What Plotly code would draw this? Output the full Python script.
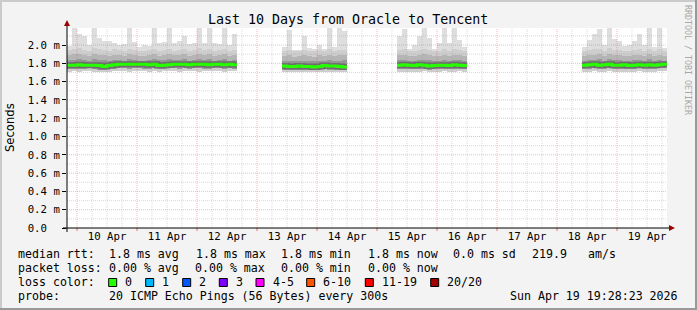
import plotly.graph_objects as go
import pandas as pd

# ---------------- data (milliseconds, 2-hour bins) ----------------
seg_starts = ["2026-04-09 20:00", "2026-04-13 10:00", "2026-04-15 08:00", "2026-04-18 10:00"]

top1 = [1.99, 2.19, 2.12, 2.10, 2.00, 2.19, 2.08, 2.04, 2.04, 2.02, 2.00, 2.01, 2.19, 2.03, 1.98, 2.00, 1.99,
        2.19, 2.02, 2.03, 2.19, 2.02, 2.04, 2.10, 2.01, 2.02, 2.19, 2.02, 2.19, 2.02, 2.01, 2.19, 2.00, 2.12]
hi1 = [1.95, 1.96, 1.97, 1.95, 1.94, 1.97, 1.96, 1.95, 1.94, 1.96, 1.95, 1.94, 1.96, 1.95, 1.93, 1.94, 1.95,
       1.96, 1.94, 1.95, 1.96, 1.94, 1.95, 1.96, 1.94, 1.95, 1.97, 1.95, 1.96, 1.94, 1.95, 1.96, 1.94, 1.95]
mid1 = [1.89, 1.90, 1.90, 1.89, 1.88, 1.90, 1.89, 1.89, 1.88, 1.89, 1.89, 1.88, 1.90, 1.89, 1.88, 1.88, 1.89,
        1.90, 1.88, 1.89, 1.90, 1.89, 1.89, 1.90, 1.88, 1.89, 1.90, 1.89, 1.90, 1.88, 1.89, 1.90, 1.88, 1.89]
dk1 = [1.84, 1.84, 1.85, 1.84, 1.83, 1.85, 1.84, 1.84, 1.83, 1.84, 1.84, 1.83, 1.85, 1.84, 1.83, 1.83, 1.84,
       1.85, 1.84, 1.84, 1.85, 1.84, 1.84, 1.85, 1.83, 1.84, 1.85, 1.84, 1.85, 1.83, 1.84, 1.85, 1.83, 1.84]
med1 = [1.78, 1.78, 1.785, 1.78, 1.78, 1.78, 1.775, 1.765, 1.775, 1.785, 1.79, 1.79, 1.79, 1.79, 1.79, 1.79, 1.785,
        1.79, 1.775, 1.78, 1.785, 1.79, 1.79, 1.79, 1.785, 1.79, 1.79, 1.79, 1.785, 1.79, 1.79, 1.785, 1.79, 1.785]
lo1 = [1.74, 1.74, 1.735, 1.74, 1.745, 1.74, 1.73, 1.725, 1.735, 1.74, 1.745, 1.745, 1.74, 1.745, 1.745, 1.74, 1.74,
       1.745, 1.735, 1.74, 1.745, 1.745, 1.74, 1.745, 1.74, 1.745, 1.745, 1.74, 1.74, 1.745, 1.745, 1.74, 1.745, 1.74]
mn1 = [1.71, 1.72, 1.71, 1.72, 1.72, 1.71, 1.70, 1.70, 1.71, 1.72, 1.72, 1.72, 1.71, 1.72, 1.72, 1.72, 1.71,
       1.72, 1.71, 1.72, 1.72, 1.72, 1.71, 1.72, 1.72, 1.72, 1.71, 1.72, 1.72, 1.72, 1.72, 1.71, 1.72, 1.72]

top2 = [1.98, 2.16, 1.95, 1.95, 2.10, 1.97, 1.96, 2.00, 1.96, 2.19, 1.98, 2.19, 2.15]
hi2 = [1.94, 1.95, 1.93, 1.93, 1.95, 1.94, 1.93, 1.95, 1.94, 1.96, 1.94, 1.95, 1.95]
mid2 = [1.88, 1.89, 1.87, 1.88, 1.89, 1.88, 1.87, 1.89, 1.88, 1.89, 1.88, 1.89, 1.89]
dk2 = [1.83, 1.83, 1.82, 1.83, 1.83, 1.83, 1.82, 1.83, 1.83, 1.84, 1.83, 1.83, 1.84]
med2 = [1.77, 1.765, 1.765, 1.77, 1.765, 1.765, 1.76, 1.765, 1.775, 1.77, 1.77, 1.765, 1.76]
lo2 = [1.73, 1.725, 1.73, 1.73, 1.725, 1.73, 1.725, 1.73, 1.735, 1.73, 1.73, 1.725, 1.725]
mn2 = [1.71, 1.70, 1.71, 1.71, 1.70, 1.71, 1.70, 1.71, 1.71, 1.71, 1.70, 1.70, 1.70]

top3 = [2.10, 2.18, 1.96, 2.00, 2.10, 2.19, 2.08, 1.96, 2.02, 2.19, 2.02, 2.19, 2.05, 1.98]
hi3 = [1.95, 1.96, 1.94, 1.94, 1.95, 1.96, 1.95, 1.93, 1.94, 1.96, 1.94, 1.96, 1.95, 1.94]
mid3 = [1.89, 1.89, 1.88, 1.88, 1.89, 1.90, 1.89, 1.88, 1.88, 1.89, 1.88, 1.89, 1.89, 1.88]
dk3 = [1.84, 1.84, 1.83, 1.83, 1.84, 1.84, 1.84, 1.83, 1.83, 1.84, 1.83, 1.84, 1.84, 1.83]
med3 = [1.78, 1.785, 1.78, 1.775, 1.785, 1.78, 1.77, 1.775, 1.78, 1.78, 1.775, 1.785, 1.78, 1.775]
lo3 = [1.74, 1.74, 1.735, 1.735, 1.74, 1.74, 1.73, 1.735, 1.74, 1.74, 1.735, 1.74, 1.74, 1.735]
mn3 = [1.71, 1.71, 1.71, 1.70, 1.71, 1.72, 1.70, 1.71, 1.71, 1.72, 1.71, 1.71, 1.72, 1.71]

top4 = [1.98, 2.06, 2.12, 2.17, 2.00, 2.19, 2.07, 2.04, 1.99, 2.00, 2.04, 2.12, 2.00, 2.19, 1.98, 2.19, 1.97]
hi4 = [1.94, 1.95, 1.96, 1.96, 1.94, 1.97, 1.95, 1.95, 1.94, 1.94, 1.95, 1.96, 1.94, 1.96, 1.94, 1.96, 1.94]
mid4 = [1.88, 1.89, 1.89, 1.90, 1.88, 1.90, 1.89, 1.89, 1.88, 1.88, 1.89, 1.89, 1.88, 1.90, 1.88, 1.89, 1.88]
dk4 = [1.83, 1.84, 1.84, 1.85, 1.83, 1.85, 1.84, 1.84, 1.83, 1.83, 1.84, 1.84, 1.83, 1.85, 1.83, 1.84, 1.83]
med4 = [1.78, 1.785, 1.79, 1.78, 1.785, 1.79, 1.78, 1.78, 1.785, 1.775, 1.78, 1.785, 1.78, 1.785, 1.78, 1.785, 1.79]
lo4 = [1.735, 1.74, 1.745, 1.74, 1.74, 1.745, 1.74, 1.735, 1.74, 1.735, 1.74, 1.745, 1.74, 1.74, 1.74, 1.745, 1.745]
mn4 = [1.71, 1.71, 1.72, 1.71, 1.71, 1.72, 1.71, 1.70, 1.71, 1.70, 1.71, 1.72, 1.71, 1.71, 1.71, 1.72, 1.72]

x_labels = ["10 Apr", "11 Apr", "12 Apr", "13 Apr", "14 Apr", "15 Apr", "16 Apr", "17 Apr", "18 Apr", "19 Apr"]
x_label_times = ["2026-04-%02d 12:00" % d for d in range(10, 20)]
y_tick_vals_ms = [0.0, 0.2, 0.4, 0.6, 0.8, 1.0, 1.2, 1.4, 1.6, 1.8, 2.0]
y_tick_text = ["0.0&nbsp;&nbsp;", "0.2 m", "0.4 m", "0.6 m", "0.8 m", "1.0 m", "1.2 m", "1.4 m", "1.6 m",
               "1.8 m", "2.0 m"]

loss_labels = ["0", "1", "2", "3", "4-5", "6-10", "11-19", "20/20"]
loss_colors = ["#26ff00", "#00b8ff", "#0059ff", "#7e00ff", "#ff00ff", "#ff5500", "#ff0000", "#a10000"]

segments = [
    dict(top=top1, hi=hi1, mid=mid1, dk=dk1, med=med1, lo=lo1, mn=mn1),
    dict(top=top2, hi=hi2, mid=mid2, dk=dk2, med=med2, lo=lo2, mn=mn2),
    dict(top=top3, hi=hi3, mid=mid3, dk=dk3, med=med3, lo=lo3, mn=mn3),
    dict(top=top4, hi=hi4, mid=mid4, dk=dk4, med=med4, lo=lo4, mn=mn4),
]

# ---------------- geometry ----------------
W, H = 697, 310
L, R, T, B = 67, 667, 28, 228
X0, X1 = "2026-04-09 20:00", "2026-04-19 20:00"
YMAX = 2.186e-3
BIN = pd.Timedelta(hours=2)


def px(x):
    return (x - L) / (R - L)


def py(y):
    return (B - y) / (B - T)


fig = go.Figure()

# smoke bands
bands = [("mn", "top", "#dedede"), ("mn", "hi", "#cecece"), ("lo", "mid", "#b5b5b5"), ("lo", "dk", "#979797")]
for lower, upper, col in bands:
    xs, bases, hs = [], [], []
    for st, seg in zip(seg_starts, segments):
        t0 = pd.Timestamp(st)
        for i, (a, b) in enumerate(zip(seg[lower], seg[upper])):
            xs.append(t0 + BIN * i + BIN / 2)
            bases.append(a / 1000)
            hs.append((b - a) / 1000)
    fig.add_trace(go.Bar(x=xs, y=hs, base=bases, width=BIN.total_seconds() * 1000,
                         marker=dict(color=col, line=dict(width=0)), hoverinfo="skip", showlegend=False))

# median lines
mx, my = [], []
for st, seg in zip(seg_starts, segments):
    t0 = pd.Timestamp(st)
    n = len(seg["med"])
    mx += [t0 + BIN * i for i in range(n + 1)] + [None]
    my += [v / 1000 for v in seg["med"]] + [seg["med"][-1] / 1000, None]
fig.add_trace(go.Scatter(x=mx, y=my, mode="lines", line=dict(color="#6e6e6e", width=6, shape="hv"),
                         hoverinfo="skip", showlegend=False, connectgaps=False))
fig.add_trace(go.Scatter(x=mx, y=my, mode="lines", line=dict(color="#26ff00", width=3, shape="hv"),
                         hoverinfo="skip", showlegend=False, connectgaps=False))

shapes = []
RED_GRID = "rgba(230,70,70,0.38)"
GRAY_GRID = "rgba(150,150,150,0.35)"
# grid (drawn above data like rrdtool)
t = pd.Timestamp("2026-04-10 00:00")
while t < pd.Timestamp(X1):
    major = t.hour == 0
    shapes.append(dict(type="line", xref="x", yref="paper", x0=t, x1=t, y0=0, y1=1, layer="above",
                       line=dict(color=RED_GRID if major else GRAY_GRID, width=1, dash="1px,1px")))
    if major:
        shapes.append(dict(type="line", xref="x", yref="paper", x0=t, x1=t, y0=0, y1=-3 / 200,
                           line=dict(color="rgba(230,60,60,0.7)", width=1)))
    t += pd.Timedelta(hours=6)
for k in range(1, 22):
    v = k * 0.1e-3
    shapes.append(dict(type="line", xref="paper", yref="y", x0=0, x1=1, y0=v, y1=v, layer="above",
                       line=dict(color=RED_GRID if k % 2 == 0 else GRAY_GRID, width=1, dash="1px,1px")))

# axes lines and arrows
shapes.append(dict(type="line", xref="paper", yref="paper", x0=px(67), x1=px(67), y0=py(232), y1=py(25),
                   line=dict(color="black", width=1), layer="above"))
shapes.append(dict(type="line", xref="paper", yref="paper", x0=px(63), x1=px(670), y0=py(228), y1=py(228),
                   line=dict(color="black", width=1), layer="above"))
shapes.append(dict(type="path", xref="paper", yref="paper", layer="above",
                   path="M %f %f L %f %f L %f %f Z" % (px(67), py(20), px(64), py(26), px(70), py(26)),
                   fillcolor="#990000", line=dict(width=0)))
shapes.append(dict(type="path", xref="paper", yref="paper", layer="above",
                   path="M %f %f L %f %f L %f %f Z" % (px(675), py(228), px(669), py(225), px(669), py(231)),
                   fillcolor="#990000", line=dict(width=0)))

# frame
shapes += [
    dict(type="line", xref="paper", yref="paper", x0=px(0), x1=px(697), y0=py(1), y1=py(1),
         line=dict(color="#cbcbcb", width=2)),
    dict(type="line", xref="paper", yref="paper", x0=px(1), x1=px(1), y0=py(0), y1=py(310),
         line=dict(color="#cbcbcb", width=2)),
    dict(type="line", xref="paper", yref="paper", x0=px(0), x1=px(697), y0=py(309), y1=py(309),
         line=dict(color="#999999", width=2)),
    dict(type="line", xref="paper", yref="paper", x0=px(696), x1=px(696), y0=py(0), y1=py(310),
         line=dict(color="#999999", width=2)),
]

# loss color boxes
box_x = [108.7, 145.7, 182.7, 219.3, 256, 306.7, 365.3, 430.7]
for bx, c in zip(box_x, loss_colors):
    shapes.append(dict(type="rect", xref="paper", yref="paper", x0=px(bx), x1=px(bx + 8),
                       y0=py(286.5), y1=py(278.5), fillcolor=c, line=dict(color="black", width=1)))

MONO = "DejaVu Sans Mono"
ann = []


def txt(x, y, s, size=11.6, anchor="left", color="black", family=MONO, angle=0, yanchor="middle"):
    ann.append(dict(x=px(x), y=py(y), xref="paper", yref="paper", text=s, showarrow=False,
                    xanchor=anchor, yanchor=yanchor, textangle=angle,
                    font=dict(family=family, size=size, color=color)))


txt(348, 19, "Last 10 Days from Oracle to Tencent", size=13.3, anchor="center")
txt(10, 128, "Seconds", size=11.6, anchor="center", family="DejaVu Sans", angle=-90)
txt(688, 60, "RRDTOOL / TOBI OETIKER", size=8.3, anchor="center", color="#a8a8a8", angle=90)

r1, r2, r3, r4 = 254.3, 268.3, 282.3, 296
for x, s in [(16, "median rtt:"), (107, "1.8 ms avg"), (194, "1.8 ms max"), (279, "1.8 ms min"),
             (366, "1.8 ms now"), (451, "0.0 ms sd"), (530, "219.9"), (586, "am/s")]:
    txt(x, r1, s)
for x, s in [(16, "packet loss:"), (107, "0.00 % avg"), (193, "0.00 % max"), (279, "0.00 % min"),
             (366, "0.00 % now")]:
    txt(x, r2, s)
txt(16, r3, "loss color:")
for bx, lab in zip(box_x, loss_labels):
    txt(bx + 14.6, r3, lab)
txt(16, r4, "probe:")
txt(107, r4, "20 ICMP Echo Pings (56 Bytes) every 300s")
txt(680, r4, "Sun Apr 19 19:28:23 2026", anchor="right")

fig.update_layout(
    width=W, height=H,
    margin=dict(l=L, r=W - R, t=T, b=H - B, pad=0),
    paper_bgcolor="#f3f3f3", plot_bgcolor="white",
    barmode="overlay", bargap=0, showlegend=False,
    shapes=shapes, annotations=ann,
    xaxis=dict(type="date", range=[X0, X1], showgrid=False, zeroline=False, showline=False,
               tickvals=x_label_times, ticktext=x_labels, ticks="",
               tickfont=dict(family=MONO, size=10.7, color="black")),
    yaxis=dict(range=[0, YMAX], showgrid=False, zeroline=False, showline=False,
               tickvals=[v / 1000 for v in y_tick_vals_ms], ticktext=y_tick_text,
               ticks="outside", ticklen=4, tickcolor="black", tickwidth=1,
               tickfont=dict(family=MONO, size=10.7, color="black")),
)

fig.write_html("out.html")
